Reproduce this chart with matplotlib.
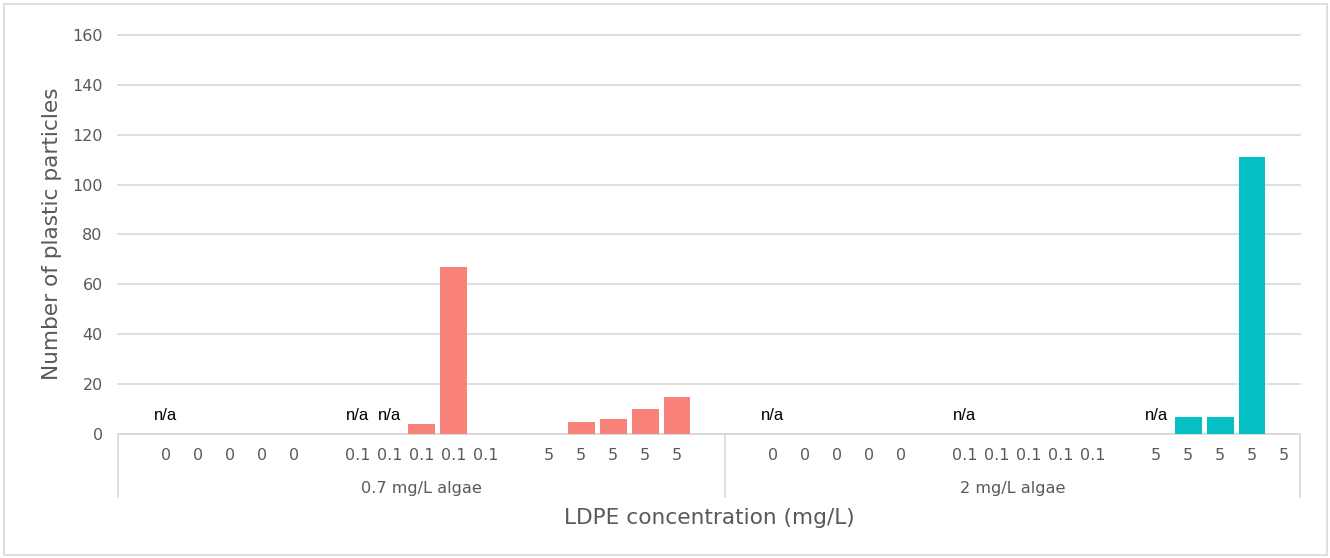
import matplotlib
matplotlib.use("Agg")
import matplotlib.pyplot as plt
from matplotlib.patches import Rectangle

# Per-slot concentration labels for each algae group ("" marks a spacer slot)
labels_07 = ["", "0", "0", "0", "0", "0", "", "0.1", "0.1", "0.1", "0.1", "0.1",
             "", "5", "5", "5", "5", "5", ""]
labels_2 = ["", "0", "0", "0", "0", "0", "", "0.1", "0.1", "0.1", "0.1", "0.1",
            "", "5", "5", "5", "5", "5"]

# Particle counts per slot; None = n/a
counts_07 = [0, None, 0, 0, 0, 0, 0, None, None, 4, 67, 0,
             0, 0, 5, 6, 10, 15, 0]
counts_2 = [0, None, 0, 0, 0, 0, 0, None, 0, 0, 0, 0,
            0, None, 7, 7, 111, 0]

group_names = ["0.7 mg/L algae", "2 mg/L algae"]
group_colors = ["#F8827A", "#04BFC4"]

y_ticks = [0, 20, 40, 60, 80, 100, 120, 140, 160]

W, H = 1330, 558
fig = plt.figure(figsize=(W / 100, H / 100), dpi=100)
ax = fig.add_axes([118 / W, 1 - 434 / H, (1300 - 118) / W, (434 - 35) / H])

grid_c = "#D9D9D9"
tick_c = "#595959"
tick_font = "DejaVu Sans"

groups = [(labels_07, counts_07), (labels_2, counts_2)]
offset = 0
bounds = [-0.5]
for gi, (labs, vals) in enumerate(groups):
    for i, v in enumerate(vals):
        x = offset + i
        if v is None:
            ax.text(x, 7.6, "n/a", ha="center", va="center", fontsize=12,
                    family="Liberation Sans", color="black")
        elif v > 0:
            ax.bar(x, v, width=0.84, color=group_colors[gi], zorder=3)
        if labs[i]:
            ax.text(x, -0.053, labs[i], transform=ax.get_xaxis_transform(),
                    ha="center", va="center", fontsize=11.5, color=tick_c,
                    family=tick_font)
    center = offset + (len(vals) - 1) / 2
    ax.text(center, -0.136, group_names[gi], transform=ax.get_xaxis_transform(),
            ha="center", va="center", fontsize=11.6, color=tick_c, family=tick_font)
    offset += len(vals)
    bounds.append(offset - 0.5)

ax.set_xlim(-0.5, offset - 0.5)
ax.set_ylim(0, 160)
ax.set_yticks(y_ticks)
ax.set_yticklabels([str(t) for t in y_ticks], fontsize=11.5, color=tick_c,
                   family=tick_font)
ax.tick_params(axis="y", length=0, pad=11)
ax.set_xticks([])
ax.grid(axis="y", color=grid_c, linewidth=1.2, zorder=0)
for gl in ax.get_ygridlines():
    gl.set_clip_on(False)
for s in ["top", "right", "left"]:
    ax.spines[s].set_visible(False)
ax.spines["bottom"].set_color(grid_c)
ax.spines["bottom"].set_linewidth(1.2)

# Category separators below the axis
for b in bounds:
    ax.plot([b, b], [0, -0.158], transform=ax.get_xaxis_transform(),
            color=grid_c, linewidth=1.2, clip_on=False)

fig.text(709 / W, 1 - 518 / H, "LDPE concentration (mg/L)", ha="center",
         va="center", fontsize=15.6, color=tick_c, family=tick_font)
fig.text(52 / W, 1 - 234 / H, "Number of plastic particles", ha="center",
         va="center", rotation=90, fontsize=15.6, color=tick_c, family=tick_font)

fig.patches.append(Rectangle((4 / W, 3 / H), 1323 / W, 551 / H,
                             transform=fig.transFigure, fill=False,
                             edgecolor=grid_c, linewidth=1.2))

fig.savefig("out.png", dpi=100)
